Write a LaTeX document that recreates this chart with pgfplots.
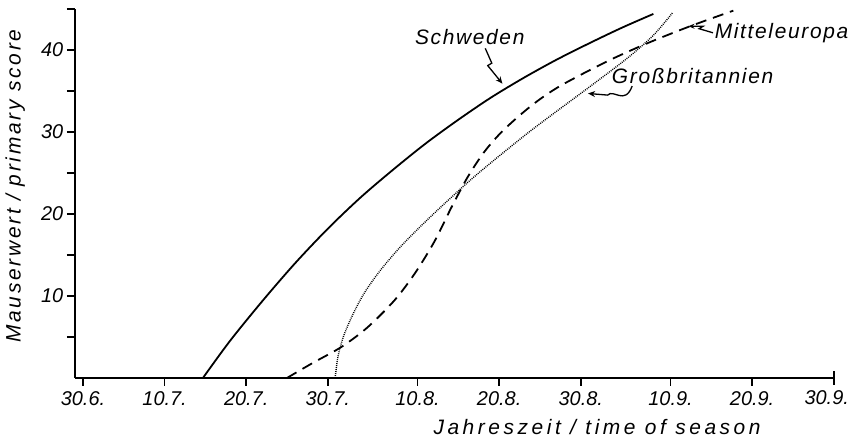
\documentclass[border=0pt]{standalone}
\usepackage{fontspec}
\setmainfont{Liberation Sans}
\newfontfamily\curvefont{Liberation Sans}[LetterSpace=8]
\newfontfamily\xlabfont{Liberation Sans}[LetterSpace=17]
\newfontfamily\ylabfont{Liberation Sans}[LetterSpace=13]
\usepackage{pgfplots}
\pgfplotsset{compat=1.18}
\usetikzlibrary{arrows.meta}

% Moult score against date (day 0 = 30 June)
\pgfplotstableread{
day score
14.7 0
18.0 4.5
22.0 9.4
26.0 14.0
30.0 18.2
34.0 22.0
38.0 25.4
42.0 28.6
46.0 31.5
50.0 34.2
54.0 36.6
58.0 38.8
62.0 40.8
66.0 42.7
69.9 44.4
}\schweden

\pgfplotstableread{
day score
25.0 0
28.1 1.8
31.7 3.8
34.9 6.2
38.2 9.5
40.7 12.8
43.1 16.7
45.2 20.9
47.2 24.6
49.2 27.6
51.2 29.9
53.6 32.1
56.0 34.0
58.8 35.8
64.2 38.6
69.1 40.8
74.4 42.9
79.7 44.8
}\mitteleuropa

\pgfplotstableread{
day score
30.9 0
31.25 2.6
31.9 5.0
33.0 7.6
34.5 10.4
36.5 13.2
39.0 16.1
42.0 19.1
45.0 21.9
48.6 25.1
54.8 30.1
61.8 35.3
66.7 39.0
69.9 41.8
72.3 44.6
}\grossbritannien

\begin{document}
\begin{tikzpicture}
\begin{axis}[
  scale only axis,
  width=759bp, height=369bp,
  xmin=-1, xmax=92, ymin=0, ymax=45,
  axis lines=left,
  axis line style={-, line width=2bp},
  x axis line style={-}, y axis line style={-},
  clip=false,
  xtick={0,10,20,30,41,51,61,72,82},
  xticklabels={30.6.,10.7.,20.7.,30.7.,10.8.,20.8.,30.8.,10.9.,20.9.},
  ytick={10,20,30,40},
  minor ytick={5,15,25,35,45},
  tick align=outside,
  major tick length=8bp, minor tick length=8bp,
  every tick/.style={black, line width=1.6bp},
  every minor tick/.style={black, line width=1.6bp},
  extra x ticks={92},
  extra x tick labels={30.9.},
  extra x tick style={tick align=center, major tick length=14bp,
    xticklabel style={xshift=-7bp}},
  /pgf/number format/assume math mode=true,
  tick label style={font=\fontsize{20}{20}\selectfont\itshape},
  xticklabel style={yshift=-2bp},
]
  \addplot[black, line width=1.8bp, smooth] table[x=day, y=score] {\schweden};
  \addplot[black, line width=1.8bp, smooth, dash pattern=on 11bp off 7bp] table[x=day, y=score] {\mitteleuropa};
  \addplot[black, line width=1.4bp, smooth, dash pattern=on 0.9bp off 1.1bp] table[x=day, y=score] {\grossbritannien};

  % curve names
  \node[anchor=center, font=\fontsize{21}{21}\selectfont\curvefont\itshape] at (axis cs:47.4,41.6) {Schweden};
  \node[anchor=west, inner sep=0pt, font=\fontsize{21}{21}\selectfont\curvefont\itshape] at (axis cs:77.4,42.1) {Mitteleuropa};
  \node[anchor=west, inner sep=0pt, font=\fontsize{21}{21}\selectfont\curvefont\itshape] at (axis cs:64.8,36.8) {Großbritannien};

  % pointers from names to curves
  \draw[line width=1.3bp, -{Stealth[length=7bp, width=6bp]}]
    (axis cs:49.3,40.2) -- (axis cs:50.1,38.4) -- (axis cs:49.6,38.1) -- (axis cs:51.4,35.9);
  \draw[line width=1.3bp, -{Stealth[length=6bp, width=5bp]}]
    (axis cs:77.2,42.1) -- (axis cs:75.5,42.6) -- (axis cs:76.0,42.9) -- (axis cs:74.2,42.9);
  \draw[line width=1.3bp, -{Stealth[length=7bp, width=6bp]}]
    (axis cs:67.3,35.6) .. controls (axis cs:66.4,33.2) and (axis cs:65.0,35.3) .. (axis cs:64.3,34.5) -- (axis cs:61.9,34.7);

  % axis titles
  \node[rotate=90, anchor=center, font=\fontsize{21}{21}\selectfont\ylabfont\itshape] at (axis cs:-8.3,23.4) {Mauserwert / primary score};
  \node[anchor=center, font=\fontsize{21}{21}\selectfont\xlabfont\itshape] at (axis cs:63.0,-6.0) {Jahreszeit / time of season};

  \coordinate (bbsw) at (axis cs:-10.17,-8.05);
  \coordinate (bbne) at (axis cs:94.12,46.1);
\end{axis}
\pgfresetboundingbox
\path[use as bounding box] (bbsw) rectangle (bbne);
\end{tikzpicture}
\end{document}
